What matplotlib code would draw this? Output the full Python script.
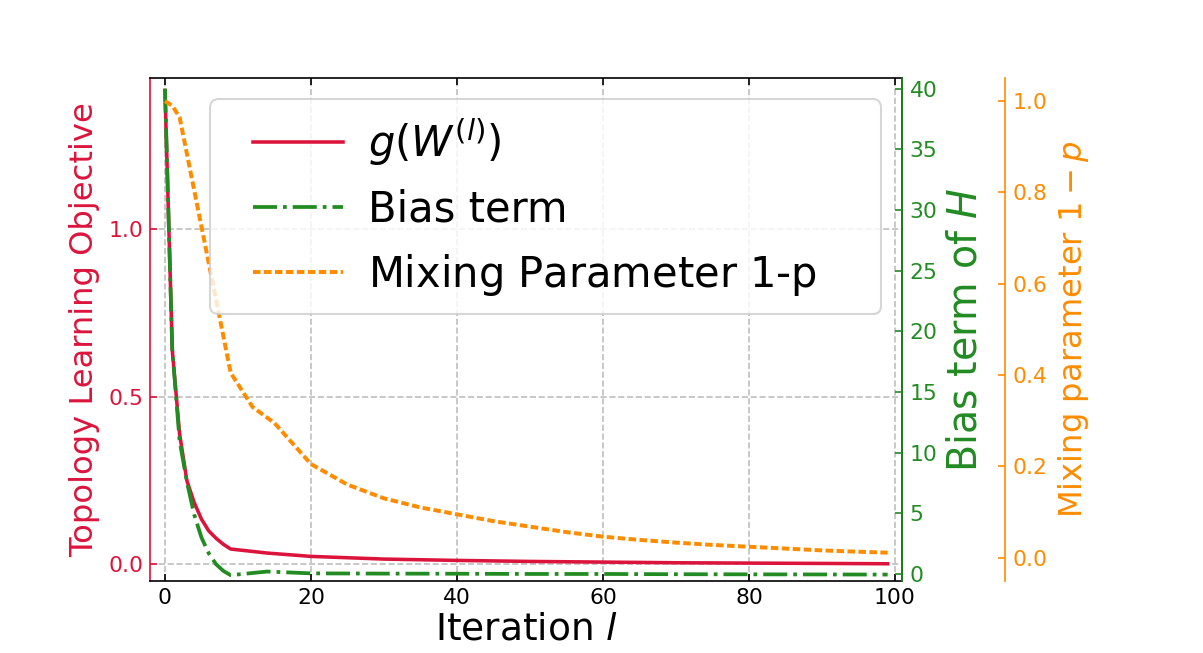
import matplotlib
matplotlib.use('Agg')
import matplotlib.pyplot as plt
from matplotlib.legend_handler import HandlerLine2D

# objective g(W^(l)) and bias term, sampled at these iterations
iters = [0, 1, 2, 3, 4, 5, 6, 7, 8, 9, 14, 20, 30, 40, 50, 60, 70, 80, 90, 99]
objective = [1.415, 0.64, 0.39, 0.25, 0.185, 0.135, 0.10, 0.078, 0.06, 0.046,
             0.034, 0.024, 0.016, 0.012, 0.009, 0.007, 0.005, 0.004, 0.003, 0.002]
bias = [40, 18.5, 11, 7.6, 4.9, 3.0, 1.7, 0.8, 0.25, -0.1,
        0.2, 0.05, 0.03, 0.02, 0.0, 0.0, -0.02, -0.03, -0.04, -0.05]

# mixing parameter 1-p
iters_mix = [0, 1, 2, 3, 4, 5, 6, 7, 8, 9, 12, 15, 20, 25, 30, 35, 40, 45, 50,
             55, 60, 65, 70, 75, 80, 85, 90, 95, 99]
mixing = [1.0, 0.99, 0.965, 0.885, 0.805, 0.725, 0.645, 0.565, 0.485, 0.405,
          0.33, 0.295, 0.205, 0.16, 0.13, 0.11, 0.095, 0.08, 0.068,
          0.056, 0.046, 0.039, 0.033, 0.028, 0.024, 0.02, 0.016, 0.013, 0.011]

c_obj = 'crimson'
c_bias = 'forestgreen'
c_mix = 'darkorange'


class IndentedLine(HandlerLine2D):
    # legend line that leaves some empty room on its left
    def get_xdata(self, legend, xdescent, ydescent, width, height, fontsize):
        x = [-xdescent + 0.226 * width, -xdescent + width]
        return x, x


fig, ax1 = plt.subplots(figsize=(1203 / 150, 653 / 150), dpi=150)
fig.subplots_adjust(left=0.125, right=0.75, bottom=0.111, top=0.88)

ax2 = ax1.twinx()
ax3 = ax1.twinx()
ax3.spines['right'].set_position(('axes', 1.137))

l1, = ax1.plot(iters, objective, color=c_obj, lw=1.7, label=r'$g(W^{(l)})$')
l2, = ax2.plot(iters, bias, color=c_bias, lw=1.8, ls='-.', label='Bias term')
l3, = ax3.plot(iters_mix, mixing, color=c_mix, lw=1.9, ls=(0, (1.9, 0.87)),
               label=r'Mixing Parameter $\mathrm{1\text{-}p}$')

ax1.set_xlim(-2, 101)
ax1.set_ylim(-0.048, 1.451)
ax2.set_ylim(-0.54, 40.85)
ax3.set_ylim(-0.05, 1.05)
ax1.set_xticks([0, 20, 40, 60, 80, 100])
ax1.set_yticks([0.0, 0.5, 1.0])
ax2.set_yticks(range(0, 41, 5))
ax3.set_yticks([0.0, 0.2, 0.4, 0.6, 0.8, 1.0])

ax1.grid(True, ls='--', color='0.75', lw=0.8)

ax1.set_xlabel(r'Iteration $l$', fontsize=18, labelpad=2)
ax1.set_ylabel('Topology Learning Objective', color=c_obj, fontsize=15.5)
ax2.set_ylabel(r'Bias term of $H$', color=c_bias, fontsize=19)
ax3.set_ylabel(r'Mixing parameter $1-p$', color=c_mix, fontsize=15.5)

ax1.tick_params(axis='x', direction='in', top=True, labelsize=10.5)
ax1.tick_params(axis='y', direction='in', colors=c_obj, labelsize=10.5)
ax2.tick_params(axis='y', direction='in', colors=c_bias, labelsize=10.5)
ax3.tick_params(axis='y', direction='in', colors=c_mix, labelsize=10.5)

ax1.spines['left'].set_color(c_obj)
for ax in (ax2, ax3):
    ax.spines['left'].set_visible(False)
    ax.spines['top'].set_visible(False)
    ax.spines['bottom'].set_visible(False)
ax2.spines['right'].set_color(c_bias)
ax3.spines['right'].set_color(c_mix)

ax3.legend(handles=[l1, l2, l3], loc='upper right', fontsize=20,
           bbox_to_anchor=(0.052, 0, 0.948, 1), mode='expand',
           handlelength=2.79, handletextpad=0.6,
           handler_map={l: IndentedLine() for l in (l1, l2, l3)})

fig.savefig('out.png', dpi=150)
